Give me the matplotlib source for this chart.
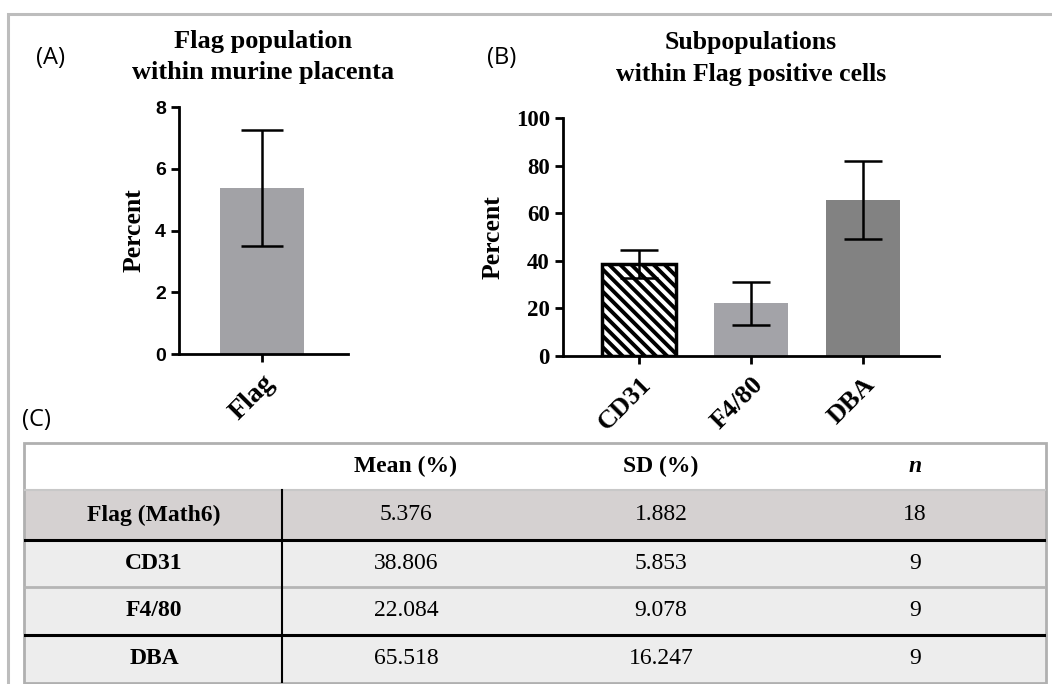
import matplotlib
matplotlib.use("Agg")
import matplotlib.pyplot as plt
from matplotlib.patches import Rectangle

# panel A data
flag_names = ["Flag"]
flag_mean = [5.376]
flag_sd = [1.882]

# panel B data
sub_names = ["CD31", "F4/80", "DBA"]
sub_mean = [38.806, 22.084, 65.518]
sub_sd = [5.853, 9.078, 16.247]

# table (C)
row_labels = ["Flag (Math6)", "CD31", "F4/80", "DBA"]
col_labels = ["Mean (%)", "SD (%)", "n"]
mean_txt = ["5.376", "38.806", "22.084", "65.518"]
sd_txt = ["1.882", "5.853", "9.078", "16.247"]
n_txt = ["18", "9", "9", "9"]

W, H = 1052, 684
SERIF = "Liberation Serif"
plt.rcParams["hatch.linewidth"] = 2.8


def fig_rect(x0, y0, x1, y1):
    # pixel box (top-left origin) -> figure fraction
    return [x0 / W, 1 - y1 / H, (x1 - x0) / W, (y1 - y0) / H]


fig = plt.figure(figsize=(W / 100, H / 100), dpi=100)

# outer frame
fig.add_artist(Rectangle((8 / W, -0.01), 1.1, 1 - 14 / H + 0.01, transform=fig.transFigure,
                         fill=False, edgecolor="#bdbdbd", lw=2.2))


def style_axes(ax):
    for s in ["top", "right"]:
        ax.spines[s].set_visible(False)
    for s in ["left", "bottom"]:
        ax.spines[s].set_linewidth(2.0)
    ax.tick_params(width=2.0, length=6, direction="out")
    ax.tick_params(axis="x", pad=6)


# ---- panel A
axA = fig.add_axes(fig_rect(179, 107, 348, 354))
axA.bar(range(len(flag_names)), flag_mean, width=0.65, color="#a2a2a6",
        yerr=flag_sd, capsize=15, error_kw=dict(elinewidth=1.8, capthick=1.8, ecolor="black"))
axA.set_xlim(-0.643, 0.667)
axA.set_ylim(0, 8)
axA.set_yticks([0, 2, 4, 6, 8])
axA.set_xticks(range(len(flag_names)))
axA.set_xticklabels(flag_names, rotation=45, ha="right", rotation_mode="anchor",
                    fontfamily=SERIF, fontweight="bold", fontsize=20)
for lab in axA.get_yticklabels():
    lab.set_fontfamily("Liberation Sans")
    lab.set_fontweight("bold")
    lab.set_fontsize(14)
style_axes(axA)
axA.set_ylabel("Percent", fontfamily=SERIF, fontweight="bold", fontsize=18.5, labelpad=7)
axA.set_title("Flag population\nwithin murine placenta", fontfamily=SERIF,
              fontweight="bold", fontsize=19, pad=20, linespacing=1.45)

# ---- panel B
axB = fig.add_axes(fig_rect(563, 118, 939, 356))
colors = ["white", "#a3a3a8", "#828282"]
bars = axB.bar(range(len(sub_names)), sub_mean, width=0.66, color=colors,
               yerr=sub_sd, capsize=13.5, error_kw=dict(elinewidth=1.8, capthick=1.8, ecolor="black"))
bars[0].set_hatch("\\\\\\")
bars[0].set_edgecolor("black")
bars[0].set_linewidth(2.5)
axB.set_xlim(-0.68, 2.68)
axB.set_ylim(0, 100)
axB.set_yticks([0, 20, 40, 60, 80, 100])
axB.set_xticks(range(len(sub_names)))
axB.set_xticklabels(sub_names, rotation=45, ha="right", rotation_mode="anchor",
                    fontfamily=SERIF, fontweight="bold", fontsize=19)
for lab in axB.get_yticklabels():
    lab.set_fontfamily(SERIF)
    lab.set_fontweight("bold")
    lab.set_fontsize(16.5)
style_axes(axB)
axB.set_ylabel("Percent", fontfamily=SERIF, fontweight="bold", fontsize=18.5, labelpad=8)
axB.set_title("Subpopulations\nwithin Flag positive cells", fontfamily=SERIF,
              fontweight="bold", fontsize=18.5, pad=27, linespacing=1.45)

# panel letters
for txt, x, y in [("(A)", 36, 58), ("(B)", 487, 58), ("(C)", 22, 420)]:
    fig.text(x / W, 1 - y / H, txt, fontfamily="Open Sans", fontsize=17, va="center", ha="left")

# ---- table C
tx0, tx1 = 24, 1046
row_edges = [443, 490, 540, 587, 635, 683]
col_x = [154, 406, 661, 915]
axT = fig.add_axes(fig_rect(tx0, row_edges[0], tx1, row_edges[-1]))
axT.set_xlim(tx0, tx1)
axT.set_ylim(row_edges[-1], row_edges[0])
axT.axis("off")

row_fill = ["white", "#d5d1d1", "#ededed", "#ededed", "#ededed"]
for i in range(len(row_edges) - 1):
    axT.add_patch(Rectangle((tx0, row_edges[i]), tx1 - tx0, row_edges[i + 1] - row_edges[i],
                            facecolor=row_fill[i], edgecolor="none"))
# separators
axT.plot([tx0, tx1], [row_edges[1]] * 2, color="#c8c8c8", lw=1.5)
axT.plot([tx0, tx1], [row_edges[3]] * 2, color="#b5b5b5", lw=2.0)
axT.plot([tx0, tx1], [row_edges[2]] * 2, color="black", lw=2.2)
axT.plot([tx0, tx1], [row_edges[4]] * 2, color="black", lw=2.2)
axT.plot([282, 282], [row_edges[1], row_edges[-1]], color="black", lw=1.5)
axT.add_patch(Rectangle((tx0, row_edges[0]), tx1 - tx0, row_edges[-1] - row_edges[0],
                        fill=False, edgecolor="#b0b0b0", lw=2.0, clip_on=False))

hy = (row_edges[0] + row_edges[1]) / 2
for j, c in enumerate(col_labels):
    axT.text(col_x[j + 1], hy, c, ha="center", va="center", fontfamily=SERIF,
             fontweight="bold", fontsize=17, style="italic" if c == "n" else "normal")
for i, lab in enumerate(row_labels):
    cy = (row_edges[i + 1] + row_edges[i + 2]) / 2
    axT.text(col_x[0], cy, lab, ha="center", va="center", fontfamily=SERIF,
             fontweight="bold", fontsize=17)
    for j, v in enumerate([mean_txt[i], sd_txt[i], n_txt[i]]):
        axT.text(col_x[j + 1], cy, v, ha="center", va="center", fontfamily=SERIF, fontsize=17)

fig.savefig("out.png", dpi=100)
